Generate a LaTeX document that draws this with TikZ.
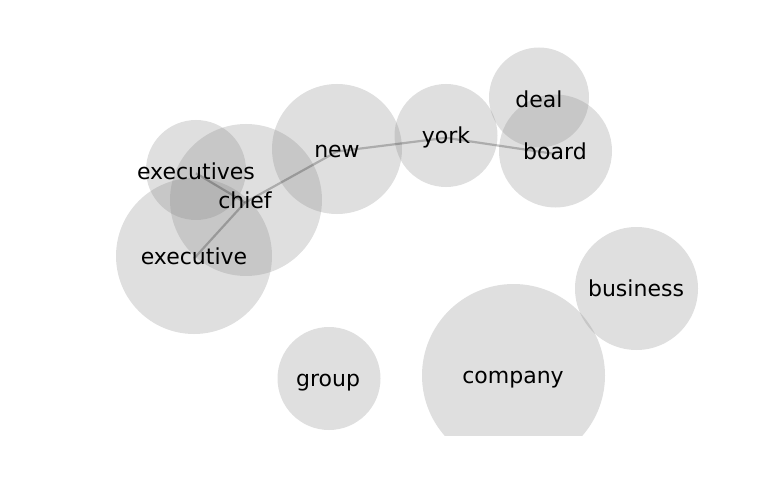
\documentclass[tikz,border=0pt]{standalone}
\usepackage{fontspec}
\setmainfont{DejaVu Sans}
\begin{document}
\begin{tikzpicture}[x=1pt,y=-1pt,
  bubble/.style={fill=gray,fill opacity=0.25,draw=none},
  word/.style={inner sep=0pt,text height=16.7pt,text depth=5.3pt,font=\fontsize{22}{26}\selectfont,text=black},
  link/.style={draw=black,draw opacity=0.23,line width=2.2pt}]
\useasboundingbox (0,0) rectangle (768,500);
% circles
\begin{scope}
\clip (0,0) rectangle (768,435);
\fill[bubble] (196,170) circle (50);
\fill[bubble] (246,200) circle (76);
\fill[bubble] (194,256) circle (78);
\fill[bubble] (337,149) circle (65);
\fill[bubble] (446,135.5) circle (51.5);
\fill[bubble] (539,97.5) circle (50);
\fill[bubble] (555.5,151) circle (56.5);
\fill[bubble] (636.5,288.5) circle (61.5);
\fill[bubble] (513.5,375.5) circle (91.5);
\fill[bubble] (329,378.5) circle (51.5);
\end{scope}
% node points
\coordinate (pexecutives) at (196,173.3);
\coordinate (pchief) at (245,202.5);
\coordinate (pexecutive) at (194,258.5);
\coordinate (pnew) at (337,151.5);
\coordinate (pyork) at (446,137.8);
\coordinate (pboard) at (555,154);
% edges
\draw[link] (pexecutives) -- (pchief);
\draw[link] (pexecutive) -- (pchief);
\draw[link] (pchief) -- (pnew);
\draw[link] (pnew) -- (pyork);
\draw[link] (pyork) -- (pboard);
% labels
\node[word] (executives) at (pexecutives) {executives};
\node[word] (chief) at (pchief) {chief};
\node[word] (executive) at (pexecutive) {executive};
\node[word] (new) at (pnew) {new};
\node[word] (york) at (pyork) {york};
\node[word] (deal) at (539,101.5) {deal};
\node[word] (board) at (pboard) {board};
\node[word] (business) at (636,290.5) {business};
\node[word] (company) at (513,377.5) {company};
\node[word] (group) at (328,380.5) {group};
\end{tikzpicture}
\end{document}
